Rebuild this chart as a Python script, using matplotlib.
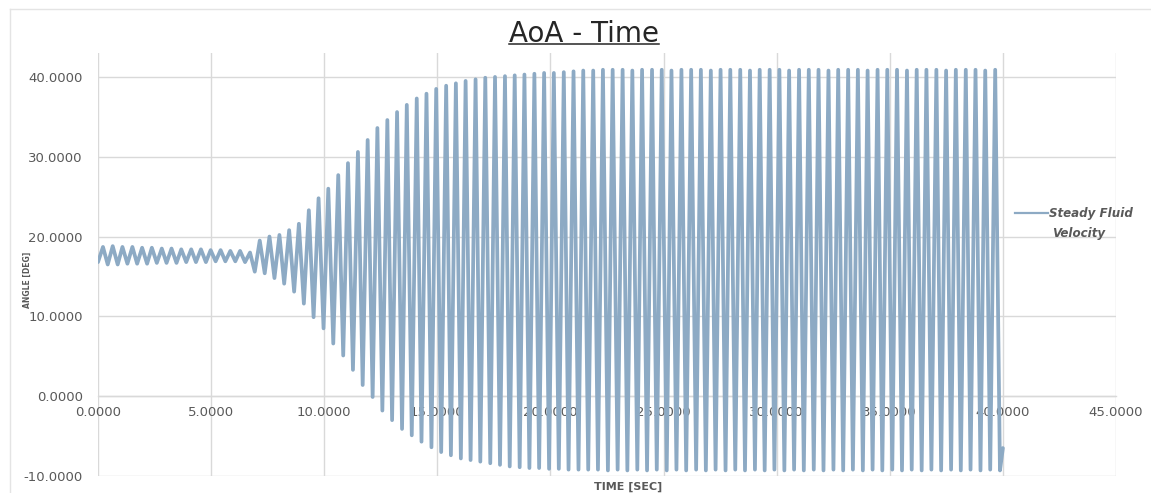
import numpy as np
import matplotlib
matplotlib.use("Agg")
import matplotlib.pyplot as plt
from matplotlib.lines import Line2D

# ---------------- data ----------------
time_sec = [
    0.00, 0.22, 0.43, 0.65, 0.87, 1.08, 1.30, 1.52, 1.73, 1.95,
    2.17, 2.38, 2.60, 2.82, 3.03, 3.25, 3.47, 3.68, 3.90, 4.12,
    4.33, 4.55, 4.77, 4.98, 5.20, 5.42, 5.63, 5.85, 6.07, 6.28,
    6.50, 6.72, 6.93, 7.15, 7.37, 7.58, 7.80, 8.02, 8.23, 8.45,
    8.67, 8.88, 9.10, 9.32, 9.53, 9.75, 9.97, 10.18, 10.40, 10.62,
    10.84, 11.05, 11.27, 11.49, 11.70, 11.92, 12.14, 12.35, 12.57, 12.79,
    13.00, 13.22, 13.44, 13.65, 13.87, 14.09, 14.30, 14.52, 14.74, 14.95,
    15.17, 15.39, 15.60, 15.82, 16.04, 16.25, 16.47, 16.69, 16.90, 17.12,
    17.34, 17.55, 17.77, 17.99, 18.20, 18.42, 18.64, 18.85, 19.07, 19.29,
    19.50, 19.72, 19.94, 20.15, 20.37, 20.59, 20.80, 21.02, 21.24, 21.45,
    21.67, 21.89, 22.10, 22.32, 22.54, 22.75, 22.97, 23.19, 23.40, 23.62,
    23.84, 24.05, 24.27, 24.49, 24.70, 24.92, 25.14, 25.35, 25.57, 25.79,
    26.00, 26.22, 26.44, 26.65, 26.87, 27.09, 27.30, 27.52, 27.74, 27.95,
    28.17, 28.39, 28.60, 28.82, 29.04, 29.25, 29.47, 29.69, 29.90, 30.12,
    30.34, 30.55, 30.77, 30.99, 31.20, 31.42, 31.64, 31.85, 32.07, 32.29,
    32.51, 32.72, 32.94, 33.16, 33.37, 33.59, 33.81, 34.02, 34.24, 34.46,
    34.67, 34.89, 35.11, 35.32, 35.54, 35.76, 35.97, 36.19, 36.41, 36.62,
    36.84, 37.06, 37.27, 37.49, 37.71, 37.92, 38.14, 38.36, 38.57, 38.79,
    39.01, 39.22, 39.44, 39.66, 39.87, 40.00,
]

angle_deg = [
    16.8, 18.7, 16.5, 18.8, 16.5, 18.7, 16.6, 18.7, 16.6, 18.6,
    16.6, 18.6, 16.7, 18.5, 16.7, 18.5, 16.7, 18.4, 16.8, 18.4,
    16.8, 18.4, 16.8, 18.3, 16.9, 18.3, 16.9, 18.2, 16.9, 18.2,
    16.8, 18.0, 15.6, 19.5, 15.4, 20.0, 14.8, 20.2, 14.1, 20.8,
    13.1, 21.6, 11.6, 23.3, 9.9, 24.8, 8.5, 26.0, 6.6, 27.7,
    5.1, 29.2, 3.3, 30.6, 1.4, 32.1, -0.1, 33.6, -1.8, 34.6,
    -3.0, 35.6, -4.1, 36.5, -4.9, 37.3, -5.7, 37.9, -6.4, 38.5,
    -7.0, 38.9, -7.4, 39.2, -7.8, 39.5, -8.0, 39.7, -8.2, 39.9,
    -8.4, 40.0, -8.6, 40.1, -8.8, 40.2, -8.9, 40.3, -9.0, 40.4,
    -9.0, 40.5, -9.1, 40.5, -9.1, 40.6, -9.2, 40.7, -9.2, 40.8,
    -9.2, 40.8, -9.2, 40.9, -9.3, 40.9, -9.2, 40.9, -9.3, 40.8,
    -9.2, 40.9, -9.3, 40.9, -9.2, 40.9, -9.3, 40.8, -9.2, 40.9,
    -9.3, 40.9, -9.2, 40.9, -9.3, 40.8, -9.2, 40.9, -9.3, 40.9,
    -9.2, 40.9, -9.3, 40.8, -9.2, 40.9, -9.3, 40.9, -9.2, 40.9,
    -9.3, 40.8, -9.2, 40.9, -9.3, 40.9, -9.2, 40.9, -9.3, 40.8,
    -9.2, 40.9, -9.3, 40.9, -9.2, 40.9, -9.3, 40.8, -9.2, 40.9,
    -9.3, 40.9, -9.2, 40.9, -9.3, 40.8, -9.2, 40.9, -9.3, 40.9,
    -9.2, 40.9, -9.3, 40.8, -9.2, 40.9, -9.3, 40.9, -9.2, 40.9,
    -9.3, 40.8, -9.2, 40.9, -9.3, -6.5,
]

x_ticks = [0, 5, 10, 15, 20, 25, 30, 35, 40, 45]
y_ticks = [-10, 0, 10, 20, 30, 40]
x_tick_labels = ["0.0000", "5.0000", "10.0000", "15.0000", "20.0000",
                 "25.0000", "30.0000", "35.0000", "40.0000", "45.0000"]
y_tick_labels = ["-10.0000", "0.0000", "10.0000", "20.0000", "30.0000", "40.0000"]

title = "AoA - Time"
x_label = "TIME [SEC]"
y_label = "ANGLE [DEG]"
series_name = ["Steady Fluid", "Velocity"]

# ---------------- styling ----------------
W, H = 1151, 493
LINE_COLOR = "#8DAAC4"
GRID_COLOR = "#D9D9D9"
TEXT_COLOR = "#595959"

plt.rcParams["font.family"] = ["DejaVu Sans"]

fig = plt.figure(figsize=(W / 100, H / 100), dpi=100)
fig.patch.set_facecolor("white")


def fx(px):
    return px / W


def fy(py):
    return 1 - py / H


ax = fig.add_axes([fx(98), fy(476), fx(1116) - fx(98), fy(53) - fy(476)])
ax.plot(time_sec, angle_deg, color=LINE_COLOR, lw=2.7,
        solid_joinstyle="round", solid_capstyle="round", zorder=3)

ax.set_xlim(0, 45)
ax.set_ylim(-10, 43)
ax.set_xticks(x_ticks)
ax.set_xticklabels(x_tick_labels)
ax.set_yticks(y_ticks)
ax.set_yticklabels(y_tick_labels)
ax.grid(True, color=GRID_COLOR, lw=1)
ax.set_axisbelow(True)
for s in ["top", "right", "left"]:
    ax.spines[s].set_visible(False)
ax.spines["bottom"].set_position(("data", 0))
ax.spines["bottom"].set_color(GRID_COLOR)
ax.spines["bottom"].set_linewidth(1)
ax.spines["bottom"].set_zorder(1)
ax.tick_params(length=0, colors=TEXT_COLOR, labelsize=9.5)
ax.tick_params(axis="y", pad=11)
ax.tick_params(axis="x", pad=7)

# title with underline
t = fig.text(fx(584), fy(41.7), title, ha="center", va="baseline",
             fontsize=20, color="#262626")
fig.canvas.draw()
bb = t.get_window_extent()
fig.add_artist(Line2D([bb.x0 / W, bb.x1 / W], [fy(44), fy(44)],
                      color="#262626", lw=1.1))

# axis titles
fig.text(fx(628), fy(487), x_label, ha="center", va="center",
         fontsize=8, fontweight="bold", color=TEXT_COLOR)
fig.text(fx(27), fy(280), y_label, ha="center", va="center", rotation=90,
         fontsize=5.5, fontweight="bold", color=TEXT_COLOR)

# legend (drawn manually to match placement)
fig.add_artist(Line2D([fx(1015), fx(1048)], [fy(213), fy(213)],
                      color=LINE_COLOR, lw=1.6))
fig.text(fx(1049), fy(213), series_name[0], ha="left", va="center",
         fontsize=8.6, fontweight="bold", style="italic", color=TEXT_COLOR)
fig.text(fx(1052), fy(234), series_name[1], ha="left", va="center",
         fontsize=8.6, fontweight="bold", style="italic", color=TEXT_COLOR)

# faint chart-area border
fig.add_artist(Line2D([fx(10), 1], [fy(9), fy(9)], color="#E4E4E4", lw=1))
fig.add_artist(Line2D([fx(10), fx(10)], [0, fy(9)], color="#E4E4E4", lw=1))

fig.savefig("out.png", dpi=100, facecolor="white")
